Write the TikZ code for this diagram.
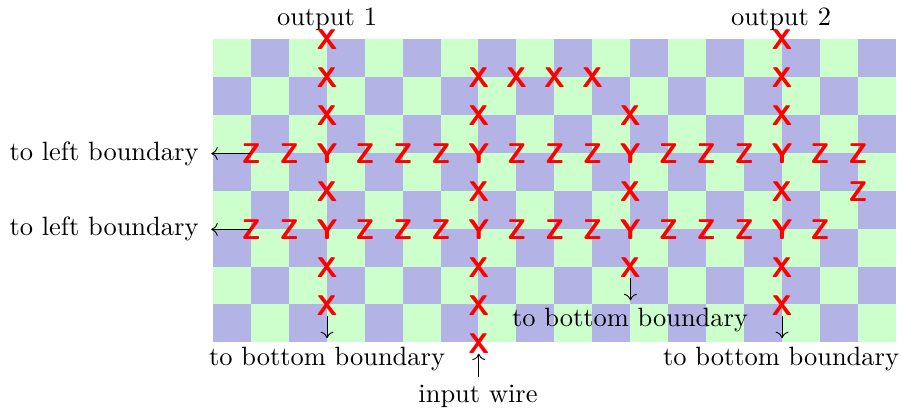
\documentclass[tikz,border=0pt]{standalone}
\usetikzlibrary{arrows.meta}
\definecolor{sqgreen}{HTML}{CCFFCC}
\definecolor{sqblue}{HTML}{B3B3E6}
\tikzset{
  x=1pt,y=-1pt,
  qubit/.style={red,font=\fontsize{10}{12}\selectfont\sffamily\bfseries,scale=2.85,inner sep=0pt},
  caption/.style={black,font=\fontsize{10}{12}\selectfont,scale=2.645,inner sep=0pt,anchor=center},
  wire/.style={black,line width=0.9pt,-{Computer Modern Rightarrow[length=6.5pt,width=13pt]}}
}
\begin{document}
\begin{tikzpicture}
\useasboundingbox (0,0) rectangle (901,411);
% checkerboard
\foreach \c in {0,...,17}{\foreach \r in {0,...,7}{
  \pgfmathparse{int(mod(\c+\r,2))}
  \ifnum\pgfmathresult=0 \def\sq{sqgreen}\else\def\sq{sqblue}\fi
  \fill[\sq] ({213+37.92*\c},{39+37.92*\r}) rectangle ({213+37.92*(\c+1)},{39+37.92*(\r+1)});
}}
% captions
\node[caption] (out1) at (327,19) {output 1};
\node[caption] (out2) at (781,19) {output 2};
\node[caption,anchor=east] (left1) at (199,154) {to left boundary};
\node[caption,anchor=east] (left2) at (199,229) {to left boundary};
\node[caption] (bot1) at (327,359) {to bottom boundary};
\node[caption] (bot2) at (630,320) {to bottom boundary};
\node[caption] (bot3) at (781,359) {to bottom boundary};
\node[caption] (input) at (478,396) {input wire};
% qubits
\foreach \c/\r/\t in {
 3/0/X,3/1/X,3/2/X,3/3/Y,3/4/X,3/5/Y,3/6/X,3/7/X,
 7/1/X,7/2/X,7/3/Y,7/4/X,7/5/Y,7/6/X,7/7/X,7/8/X,
 11/2/X,11/3/Y,11/4/X,11/5/Y,11/6/X,
 15/0/X,15/1/X,15/2/X,15/3/Y,15/4/X,15/5/Y,15/6/X,15/7/X,
 8/1/X,9/1/X,10/1/X,
 1/3/Z,2/3/Z,4/3/Z,5/3/Z,6/3/Z,8/3/Z,9/3/Z,10/3/Z,12/3/Z,13/3/Z,14/3/Z,16/3/Z,17/3/Z,
 17/4/Z,
 1/5/Z,2/5/Z,4/5/Z,5/5/Z,6/5/Z,8/5/Z,9/5/Z,10/5/Z,12/5/Z,13/5/Z,14/5/Z,16/5/Z}
 \node[qubit] (q\c-\r) at ({213.3+37.92*\c},{39.8+37.92*\r}) {\t};
% free arrow ends
\path (q1-3.center) ++(-40,0) coordinate (tipleft1);
\path (q1-5.center) ++(-40,0) coordinate (tipleft2);
\path (q3-7.center) ++(0,33) coordinate (tipbot1);
\path (q11-6.center) ++(0,33) coordinate (tipbot2);
\path (q15-7.center) ++(0,33) coordinate (tipbot3);
\path (q7-8.center) ++(0,34) coordinate (startin);
% connectors
\draw[wire] (q1-3.center) -- (tipleft1);
\draw[wire] (q1-5.center) -- (tipleft2);
\draw[wire] (q3-7.south) -- (tipbot1);
\draw[wire] (q11-6.south) -- (tipbot2);
\draw[wire] (q15-7.south) -- (tipbot3);
\draw[wire] (startin) -- (q7-8.south);
\end{tikzpicture}
\end{document}
